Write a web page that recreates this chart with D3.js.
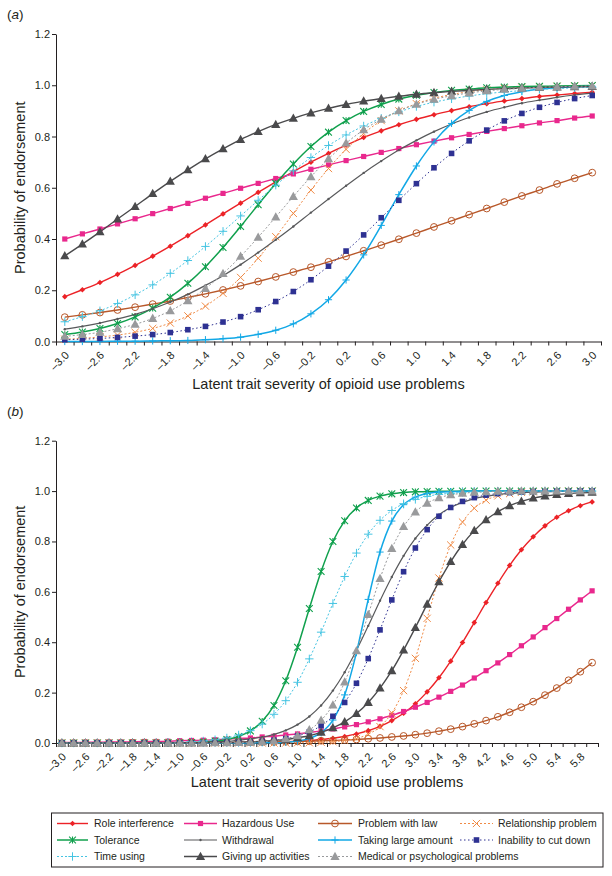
<!DOCTYPE html>
<html><head><meta charset="utf-8">
<script src="https://cdn.jsdelivr.net/npm/d3@7"></script>
<style>
body{margin:0;background:#fff}
text{font-family:"Liberation Sans",Arial,Helvetica,sans-serif;fill:#231f20}
</style>
</head><body>
<svg id="c" width="612" height="876"></svg>
<script>
// ---------- categories ----------
const xA = [-3.0,-2.8,-2.6,-2.4,-2.2,-2.0,-1.8,-1.6,-1.4,-1.2,-1.0,-0.8,-0.6,-0.4,-0.2,0.0,0.2,0.4,0.6,0.8,1.0,1.2,1.4,1.6,1.8,2.0,2.2,2.4,2.6,2.8,3.0];
const xB = [-3.0,-2.8,-2.6,-2.4,-2.2,-2.0,-1.8,-1.6,-1.4,-1.2,-1.0,-0.8,-0.6,-0.4,-0.2,0.0,0.2,0.4,0.6,0.8,1.0,1.2,1.4,1.6,1.8,2.0,2.2,2.4,2.6,2.8,3.0,3.2,3.4,3.6,3.8,4.0,4.2,4.4,4.6,4.8,5.0,5.2,5.4,5.6,5.8,6.0];
const yTicks = [0.0,0.2,0.4,0.6,0.8,1.0,1.2];
const seriesNames = ["Role interference","Hazardous Use","Problem with law","Relationship problem","Tolerance","Withdrawal","Taking large amount","Inability to cut down","Time using","Giving up activities","Medical or psychological problems"];

// ---------- panel (a) values ----------
const roleA   = [0.175,0.202,0.230,0.262,0.297,0.333,0.372,0.413,0.455,0.498,0.540,0.582,0.623,0.663,0.700,0.734,0.766,0.796,0.822,0.846,0.867,0.885,0.901,0.916,0.928,0.939,0.948,0.956,0.962,0.968,0.973];
const hazardA = [0.400,0.420,0.439,0.459,0.479,0.499,0.519,0.539,0.559,0.578,0.598,0.617,0.636,0.654,0.672,0.689,0.706,0.722,0.738,0.753,0.768,0.782,0.795,0.808,0.820,0.831,0.842,0.853,0.862,0.872,0.880];
const lawA    = [0.095,0.104,0.113,0.123,0.134,0.146,0.158,0.172,0.186,0.201,0.217,0.234,0.252,0.271,0.290,0.311,0.332,0.354,0.376,0.399,0.423,0.447,0.471,0.495,0.519,0.544,0.568,0.591,0.615,0.637,0.659];
const relA    = [0.009,0.012,0.018,0.025,0.036,0.051,0.072,0.100,0.138,0.188,0.250,0.325,0.409,0.500,0.591,0.675,0.750,0.812,0.862,0.900,0.928,0.949,0.964,0.975,0.982,0.988,0.992,0.994,0.996,0.997,0.998];
const tolA    = [0.027,0.037,0.051,0.070,0.096,0.130,0.173,0.227,0.292,0.367,0.449,0.534,0.617,0.693,0.761,0.817,0.862,0.898,0.925,0.946,0.961,0.972,0.980,0.985,0.990,0.993,0.995,0.996,0.997,0.998,0.999];
const withA   = [0.048,0.059,0.072,0.088,0.106,0.128,0.154,0.184,0.219,0.257,0.300,0.347,0.397,0.449,0.503,0.556,0.608,0.658,0.704,0.747,0.785,0.819,0.849,0.874,0.896,0.914,0.930,0.942,0.953,0.962,0.969];
const largeA  = [0.000,0.000,0.000,0.001,0.001,0.002,0.003,0.004,0.007,0.011,0.017,0.028,0.044,0.069,0.108,0.163,0.240,0.338,0.453,0.573,0.685,0.779,0.851,0.902,0.937,0.960,0.975,0.984,0.990,0.994,0.996];
const cutA    = [0.007,0.009,0.012,0.016,0.021,0.027,0.035,0.046,0.059,0.076,0.097,0.124,0.156,0.195,0.241,0.294,0.353,0.416,0.483,0.551,0.616,0.678,0.734,0.783,0.825,0.861,0.890,0.914,0.933,0.948,0.960];
const timeA   = [0.077,0.097,0.120,0.148,0.182,0.221,0.266,0.316,0.371,0.430,0.490,0.551,0.610,0.666,0.718,0.765,0.806,0.841,0.871,0.896,0.917,0.934,0.947,0.958,0.967,0.974,0.979,0.984,0.987,0.990,0.992];
const giveA   = [0.334,0.380,0.428,0.478,0.527,0.577,0.625,0.670,0.713,0.752,0.788,0.819,0.847,0.871,0.892,0.910,0.925,0.938,0.948,0.957,0.965,0.971,0.976,0.980,0.984,0.987,0.989,0.991,0.993,0.994,0.995];
const medA    = [0.020,0.027,0.036,0.050,0.067,0.090,0.120,0.159,0.207,0.265,0.332,0.407,0.486,0.566,0.643,0.713,0.774,0.826,0.867,0.900,0.926,0.945,0.959,0.970,0.978,0.984,0.988,0.992,0.994,0.996,0.997];

// ---------- panel (b) values ----------
const roleB   = [0.000,0.000,0.000,0.000,0.000,0.000,0.000,0.000,0.000,0.000,0.000,0.000,0.001,0.001,0.001,0.002,0.002,0.003,0.004,0.005,0.008,0.010,0.014,0.019,0.026,0.036,0.049,0.066,0.089,0.118,0.156,0.203,0.259,0.325,0.399,0.478,0.558,0.634,0.705,0.767,0.819,0.862,0.896,0.922,0.942,0.957];
const hazardB = [0.002,0.002,0.003,0.003,0.004,0.004,0.005,0.006,0.006,0.007,0.009,0.010,0.011,0.013,0.015,0.018,0.020,0.024,0.027,0.032,0.036,0.042,0.048,0.056,0.064,0.073,0.084,0.096,0.110,0.125,0.142,0.161,0.182,0.205,0.230,0.258,0.287,0.318,0.351,0.386,0.421,0.458,0.494,0.531,0.568,0.604];
const lawB    = [0.000,0.000,0.000,0.000,0.000,0.000,0.001,0.001,0.001,0.001,0.001,0.001,0.002,0.002,0.002,0.003,0.003,0.004,0.004,0.005,0.006,0.007,0.009,0.010,0.012,0.014,0.017,0.020,0.024,0.028,0.033,0.039,0.047,0.055,0.065,0.076,0.089,0.104,0.122,0.142,0.164,0.190,0.218,0.249,0.283,0.319];
const relB    = [0.000,0.000,0.000,0.000,0.000,0.000,0.000,0.000,0.000,0.000,0.000,0.000,0.000,0.000,0.000,0.000,0.000,0.000,0.000,0.000,0.001,0.001,0.003,0.005,0.010,0.018,0.035,0.065,0.119,0.208,0.336,0.495,0.655,0.786,0.877,0.932,0.964,0.981,0.990,0.995,0.997,0.999,0.999,1.000,1.000,1.000];
const tolB    = [0.000,0.000,0.000,0.000,0.000,0.000,0.000,0.000,0.000,0.001,0.001,0.002,0.004,0.008,0.014,0.026,0.048,0.086,0.149,0.247,0.380,0.534,0.681,0.800,0.882,0.933,0.963,0.980,0.989,0.994,0.997,0.998,0.999,0.999,1.000,1.000,1.000,1.000,1.000,1.000,1.000,1.000,1.000,1.000,1.000,1.000];
const withB   = [0.000,0.000,0.000,0.000,0.000,0.000,0.000,0.000,0.001,0.001,0.001,0.002,0.003,0.005,0.007,0.011,0.016,0.023,0.034,0.050,0.073,0.105,0.149,0.208,0.281,0.368,0.465,0.565,0.659,0.743,0.812,0.865,0.906,0.935,0.955,0.970,0.979,0.986,0.991,0.994,0.996,0.997,0.998,0.999,0.999,0.999];
const largeB  = [0.000,0.000,0.000,0.000,0.000,0.000,0.000,0.000,0.000,0.000,0.000,0.000,0.000,0.000,0.000,0.000,0.000,0.001,0.001,0.003,0.008,0.018,0.041,0.091,0.191,0.359,0.570,0.758,0.881,0.946,0.976,0.990,0.996,0.998,0.999,1.000,1.000,1.000,1.000,1.000,1.000,1.000,1.000,1.000,1.000,1.000];
const cutB    = [0.000,0.000,0.000,0.000,0.000,0.000,0.000,0.000,0.000,0.000,0.000,0.000,0.001,0.001,0.002,0.003,0.004,0.007,0.011,0.017,0.028,0.044,0.069,0.106,0.161,0.237,0.335,0.449,0.568,0.680,0.774,0.847,0.900,0.935,0.959,0.974,0.984,0.990,0.994,0.996,0.998,0.998,0.999,0.999,1.000,1.000];
const timeB   = [0.000,0.000,0.000,0.000,0.000,0.000,0.001,0.001,0.001,0.002,0.003,0.005,0.008,0.013,0.020,0.032,0.049,0.075,0.114,0.168,0.241,0.334,0.440,0.554,0.661,0.754,0.829,0.884,0.923,0.950,0.967,0.979,0.987,0.991,0.995,0.997,0.998,0.999,0.999,0.999,1.000,1.000,1.000,1.000,1.000,1.000];
const giveB   = [0.000,0.000,0.000,0.000,0.000,0.000,0.000,0.000,0.000,0.000,0.001,0.001,0.001,0.002,0.002,0.003,0.005,0.007,0.010,0.014,0.021,0.029,0.042,0.060,0.084,0.117,0.161,0.218,0.287,0.369,0.458,0.551,0.640,0.720,0.788,0.843,0.886,0.918,0.942,0.959,0.972,0.980,0.986,0.990,0.993,0.995];
const medB    = [0.000,0.000,0.000,0.000,0.000,0.000,0.000,0.000,0.000,0.000,0.000,0.000,0.000,0.001,0.001,0.002,0.003,0.005,0.009,0.017,0.029,0.052,0.090,0.151,0.242,0.366,0.510,0.653,0.772,0.859,0.917,0.952,0.973,0.985,0.991,0.995,0.997,0.999,0.999,1.000,1.000,1.000,1.000,1.000,1.000,1.000];

const valuesA = [roleA,hazardA,lawA,relA,tolA,withA,largeA,cutA,timeA,giveA,medA];
const valuesB = [roleB,hazardB,lawB,relB,tolB,withB,largeB,cutB,timeB,giveB,medB];

// ---------- styles ----------
const styles = [
  {color:"#ec2227", dash:null,  w:1.4, marker:"diamond", s:2.8, fill:true},
  {color:"#e9288d", dash:null,  w:1.4, marker:"square",  s:2.6, fill:true},
  {color:"#b8582a", dash:null,  w:1.4, marker:"circle",  s:3.4, fill:false},
  {color:"#f08a45", dash:"2,2", w:1.0, marker:"x",       s:3.6, fill:false},
  {color:"#10a04d", dash:null,  w:1.5, marker:"star",    s:3.4, fill:false},
  {color:"#58595b", dash:null,  w:1.2, marker:"dot",     s:1.2, fill:true},
  {color:"#12a8e6", dash:null,  w:1.5, marker:"plus",    s:3.6, fill:false},
  {color:"#2e3192", dash:"1.5,2.5", w:1.0, marker:"square", s:2.8, fill:true},
  {color:"#45c4e2", dash:"2,2", w:1.0, marker:"plus",    s:4.2, fill:false},
  {color:"#4a4a4c", dash:null,  w:1.4, marker:"tri",     s:4.6, fill:true},
  {color:"#999a9c", dash:"2,2", w:1.0, marker:"tri",     s:4.6, fill:true}
];

function markerPath(t, s){
  switch(t){
    case "diamond": return `M0,${-s}L${s},0L0,${s}L${-s},0Z`;
    case "square": return `M${-s},${-s}H${s}V${s}H${-s}Z`;
    case "circle": return `M${s},0A${s},${s} 0 1,1 ${-s},0A${s},${s} 0 1,1 ${s},0Z`;
    case "x": return `M${-s},${-s}L${s},${s}M${-s},${s}L${s},${-s}`;
    case "star": return `M${-s},${-s}L${s},${s}M${-s},${s}L${s},${-s}M0,${-s}V${s}`;
    case "plus": return `M0,${-s}V${s}M${-s},0H${s}`;
    case "tri": return `M0,${-s*1.05}L${s},${s*0.75}L${-s},${s*0.75}Z`;
    case "dot": return `M${s},0A${s},${s} 0 1,1 ${-s},0A${s},${s} 0 1,1 ${s},0Z`;
  }
}
function styleMarker(sel, st){
  if (st.fill) sel.attr("fill", st.color).attr("stroke","none");
  else sel.attr("fill", st.marker==="circle" ? "none" : "none").attr("stroke", st.color).attr("stroke-width", st.marker==="star"?1.1:1);
}

const svg = d3.select("#c");
const fmtX = d => (d < 0 ? "\u2013" : "") + Math.abs(d).toFixed(1);

function drawPanel(cfg){
  const {xs, vals, top, bottom, left, right, label, labelY, titleY} = cfg;
  const n = xs.length;
  const g = svg.append("g");
  const band = d3.scaleBand().domain(d3.range(n)).range([left, right]).padding(0);
  const cx = i => band(i) + band.bandwidth()/2;
  const y = d3.scaleLinear().domain([0, 1.2]).range([bottom, top]);

  // y axis
  const ya = g.append("g").attr("transform", `translate(${left},0)`)
    .call(d3.axisLeft(y).tickValues(yTicks).tickFormat(d3.format(".1f")).tickSize(4).tickSizeOuter(0).tickPadding(2));
  ya.selectAll("path,line").attr("stroke","#231f20");
  ya.selectAll("text").attr("font-size", 11).attr("font-family",'"Liberation Sans",Arial,sans-serif').attr("fill","#231f20");

  // x axis (category boundaries)
  const idx = d3.scaleLinear().domain([0, n]).range([left, right]);
  const xa = g.append("g").attr("transform", `translate(0,${bottom})`)
    .call(d3.axisBottom(idx).tickValues(d3.range(n+1)).tickFormat("").tickSize(4).tickSizeOuter(0));
  xa.selectAll("path,line").attr("stroke","#231f20");

  // x labels
  const xl = g.append("g").attr("transform", `translate(0,${bottom})`)
    .call(d3.axisBottom(band).tickValues(d3.range(0, n, 2)).tickFormat(i => fmtX(xs[i])).tickSize(0));
  xl.select(".domain").remove();
  xl.selectAll("text")
    .attr("font-size", 11).attr("font-family",'"Liberation Sans",Arial,sans-serif').attr("fill","#231f20")
    .attr("text-anchor","end").attr("x", 5).attr("y", 14.5).attr("dy", 0)
    .attr("transform", "rotate(-45,5,14.5)");

  // series
  const line = d3.line().x((d,i) => cx(i)).y(d => y(d)).curve(d3.curveMonotoneX);
  vals.forEach((v, k) => {
    const st = styles[k];
    const sg = g.append("g");
    sg.append("path").attr("d", line(v)).attr("fill","none").attr("stroke", st.color)
      .attr("stroke-width", st.w).attr("stroke-dasharray", st.dash);
    sg.selectAll("path.m").data(v).join("path").attr("class","m")
      .attr("transform", (d,i) => `translate(${cx(i)},${y(d)})`)
      .attr("d", markerPath(st.marker, st.s))
      .call(sel => styleMarker(sel, st));
  });

  // titles
  g.append("text").attr("x", 7).attr("y", labelY).attr("font-size", 13.5)
    .html(`(<tspan font-style="italic">${label}</tspan>)`);
  g.append("text").attr("transform", `translate(24.5,${(top+bottom)/2}) rotate(-90)`)
    .attr("text-anchor","middle").attr("font-size", 14.5).text("Probability of endorsement");
  g.append("text").attr("x", (left+right)/2).attr("y", titleY).attr("text-anchor","middle")
    .attr("font-size", 14.5).text("Latent trait severity of opioid use problems");
}

drawPanel({xs:xA, vals:valuesA, top:34, bottom:341.5, left:56, right:601, label:"a", labelY:19, titleY:389});
drawPanel({xs:xB, vals:valuesB, top:440.7, bottom:743, left:56, right:598, label:"b", labelY:416, titleY:787});

// ---------- legend ----------
const lg = svg.append("g");
lg.append("rect").attr("x", 51.5).attr("y", 813).attr("width", 551.5).attr("height", 54)
  .attr("fill","none").attr("stroke","#231f20").attr("stroke-width",1);
const colX = [[57,88,94],[184,217,222],[318,352,358],[460,493,498]];
const rowY = [823.5,840,856.5];
const legendOrder = [[0,0],[1,1],[2,2],[3,3],[4,0],[5,1],[6,2],[7,3],[8,0],[9,1],[10,2]];
seriesNames.forEach((name, k) => {
  const [r, c] = [Math.floor(k/4), k%4];
  const st = styles[k];
  const [x1, x2, tx] = colX[c];
  const yy = rowY[r];
  lg.append("line").attr("x1", x1).attr("x2", x2).attr("y1", yy).attr("y2", yy)
    .attr("stroke", st.color).attr("stroke-width", st.w).attr("stroke-dasharray", st.dash);
  lg.append("path").attr("transform", `translate(${(x1+x2)/2},${yy})`).attr("d", markerPath(st.marker, st.s))
    .call(sel => styleMarker(sel, st));
  lg.append("text").attr("x", tx).attr("y", yy + 3.8).attr("font-size", 10.5).text(name);
});
</script>
</body></html>
